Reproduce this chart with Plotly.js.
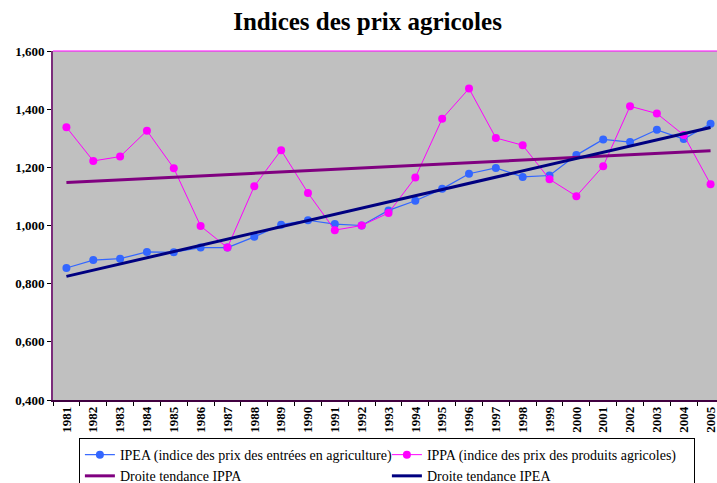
<!DOCTYPE html>
<html>
<head>
<meta charset="utf-8">
<script src="https://cdn.plot.ly/plotly-3.0.1.min.js"></script>
<style>html,body{margin:0;padding:0;overflow:hidden;background:#fff}</style>
</head>
<body>
<div id="chart" style="width:717px;height:483px"></div>
<script>
const years = ['1981','1982','1983','1984','1985','1986','1987','1988','1989','1990','1991','1992','1993','1994','1995','1996','1997','1998','1999','2000','2001','2002','2003','2004','2005'];
const ipea = [0.854,0.881,0.886,0.909,0.908,0.924,0.924,0.961,1.003,1.018,1.005,1.000,1.052,1.085,1.126,1.178,1.198,1.167,1.172,1.242,1.296,1.287,1.329,1.297,1.350];
const ippa = [1.338,1.222,1.237,1.326,1.197,0.998,0.924,1.135,1.259,1.112,0.984,1.000,1.043,1.165,1.367,1.471,1.301,1.276,1.159,1.101,1.204,1.410,1.385,1.311,1.142];
const trendYears = ['1981','2005'];
const trendIppa = [1.148,1.257];
const trendIpea = [0.825,1.337];
const yTicks = [0.4,0.6,0.8,1.0,1.2,1.4,1.6];

const serif = 'Liberation Serif, Times New Roman, serif';

const traces = [
  {x: years, y: ipea, type:'scatter', mode:'lines+markers', name:'IPEA (indice des prix des entrées en agriculture)',
   line:{color:'#3366FF', width:1.2}, marker:{color:'#3366FF', size:8}},
  {x: years, y: ippa, type:'scatter', mode:'lines+markers', name:'IPPA (indice des prix des produits agricoles)',
   line:{color:'#FF00FF', width:1}, marker:{color:'#FF00FF', size:8}},
  {x: trendYears, y: trendIppa, type:'scatter', mode:'lines', name:'Droite tendance IPPA',
   line:{color:'#800080', width:3}},
  {x: trendYears, y: trendIpea, type:'scatter', mode:'lines', name:'Droite tendance IPEA',
   line:{color:'#000080', width:3}}
];

const layout = {
  width:717, height:483,
  margin:{l:53, r:0, t:51, b:83, autoexpand:false},
  paper_bgcolor:'#ffffff', plot_bgcolor:'#C0C0C0',
  separators:',.',
  title:{text:'Indices des prix agricoles', font:{family:serif, size:25, color:'#000', weight:'bold'},
         x:0.5126, xref:'container', xanchor:'center', y:0.955, yref:'container', yanchor:'middle'},
  xaxis:{type:'category', categoryorder:'array', categoryarray:years, range:[-0.5,24.24],
         showgrid:false, zeroline:false, showline:true, linecolor:'#400040', linewidth:1.5,
         ticks:'outside', tickson:'boundaries', ticklen:4, tickcolor:'#000', tickwidth:1,
         tickangle:-90, tickfont:{family:serif, size:13, color:'#000', weight:'bold'}, fixedrange:true},
  yaxis:{range:[0.4,1.6], tickvals:yTicks, tickformat:'.3f', showgrid:false, zeroline:false,
         showline:true, linecolor:'#7B2C7B', linewidth:2,
         ticks:'outside', ticklen:4, tickcolor:'#000', tickwidth:1,
         tickfont:{family:serif, size:13, color:'#000', weight:'bold'}, fixedrange:true},
  shapes:[{type:'line', xref:'paper', yref:'paper', x0:0, x1:1, y0:1, y1:1, line:{color:'#FF00FF', width:1}}],
  showlegend:true,
  legend:{orientation:'h', x:0.039, xanchor:'left', y:-0.109, yanchor:'top',
          entrywidth:262, entrywidthmode:'pixels', itemwidth:30,
          bordercolor:'#000', borderwidth:1, bgcolor:'#ffffff',
          font:{family:serif, size:14, color:'#000'}, tracegroupgap:0}
};

Plotly.newPlot('chart', traces, layout, {displayModeBar:false, staticPlot:true});
</script>
</body>
</html>
